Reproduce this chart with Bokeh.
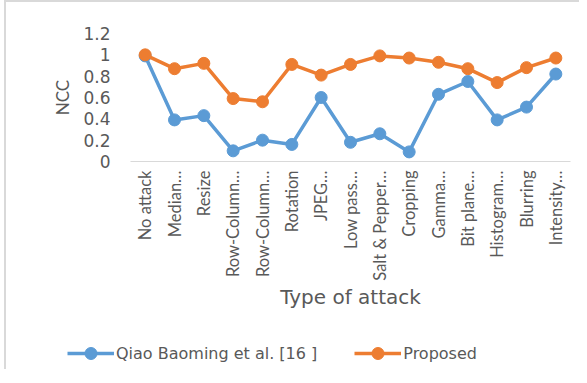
import math
from bokeh.plotting import figure
from bokeh.models import FixedTicker, Legend, LegendItem, ColumnDataSource
from bokeh.embed import file_html
from bokeh.resources import INLINE

categories = ["No attack", "Median…", "Resize", "Row-Column…", "Row-Column…",
              "Rotation", "JPEG…", "Low pass…", "Salt & Pepper…", "Cropping",
              "Gamma…", "Bit plane…", "Histogram…", "Blurring", "Intensity…"]
qiao = [0.99, 0.39, 0.43, 0.10, 0.20, 0.16, 0.60, 0.18, 0.26, 0.09, 0.63, 0.75, 0.39, 0.51, 0.82]
proposed = [1.00, 0.87, 0.92, 0.59, 0.56, 0.91, 0.81, 0.91, 0.99, 0.97, 0.93, 0.87, 0.74, 0.88, 0.97]
y_ticks = [0, 0.2, 0.4, 0.6, 0.8, 1, 1.2]
y_labels = ["0", "0.2", "0.4", "0.6", "0.8", "1", "1.2"]
series_names = ["Qiao Baoming et al. [16 ]", "Proposed"]

VFONT = "Lato"          # rotated texts
HFONT = "DejaVu Sans"   # horizontal texts (reference is stretched horizontally)
GRAY = "#595959"
BLUE = "#5B9BD5"
ORANGE = "#ED7D31"
BORDER = "2px solid #d9d9d9"
SHIFT = {"position": "relative", "left": "4px"}

xs = list(range(len(categories)))

p = figure(width=575, height=319, output_backend="svg", toolbar_location=None,
           x_range=(-0.5, len(categories) - 0.5), y_range=(0, 1.2),
           min_border_left=124, min_border_right=11, min_border_top=31,
           min_border_bottom=160)
p.styles = dict(SHIFT, **{"border-left": BORDER, "border-top": BORDER})
p.outline_line_color = None
p.xgrid.visible = False
p.ygrid.visible = False

src = ColumnDataSource(dict(x=xs, a=qiao, b=proposed))
p.line("x", "a", source=src, line_color=BLUE, line_width=3.5)
p.scatter("x", "a", source=src, size=12, fill_color=BLUE, line_color=BLUE)
p.line("x", "b", source=src, line_color=ORANGE, line_width=3.5)
p.scatter("x", "b", source=src, size=12, fill_color=ORANGE, line_color=ORANGE)

# y axis
ya = p.yaxis[0]
ya.ticker = FixedTicker(ticks=y_ticks)
ya.major_label_overrides = {t: s for t, s in zip(y_ticks, y_labels)}
ya.axis_line_color = None
ya.major_tick_line_color = None
ya.minor_tick_line_color = None
ya.major_label_standoff = 14
ya.major_label_text_font = HFONT
ya.major_label_text_font_size = "17px"
ya.major_label_text_color = GRAY
ya.axis_label = "NCC"
ya.axis_label_text_font = VFONT
ya.axis_label_text_font_size = "17px"
ya.axis_label_text_font_style = "normal"
ya.axis_label_text_color = GRAY
ya.axis_label_standoff = 7

# x axis
xa = p.xaxis[0]
xa.ticker = FixedTicker(ticks=xs)
xa.major_label_overrides = {i: c for i, c in zip(xs, categories)}
xa.major_label_orientation = math.pi / 2
xa.axis_line_color = "#d9d9d9"
xa.axis_line_width = 1
xa.major_tick_line_color = None
xa.minor_tick_line_color = None
xa.major_label_standoff = 3
xa.major_label_text_font = VFONT
xa.major_label_text_font_size = "16.5px"
xa.major_label_text_color = GRAY
xa.axis_label = "Type of attack"
xa.axis_label_text_font = HFONT
xa.axis_label_text_font_size = "20px"
xa.axis_label_text_font_style = "normal"
xa.axis_label_text_color = GRAY
xa.axis_label_standoff = 1

# legend strip below the chart
q = figure(width=575, height=50, output_backend="svg", toolbar_location=None,
           x_axis_location=None, y_axis_location=None,
           min_border_left=0, min_border_right=0, min_border_top=0,
           min_border_bottom=0)
q.styles = dict(SHIFT, **{"border-left": BORDER})
q.outline_line_color = None
q.xgrid.visible = False
q.ygrid.visible = False
blank = ColumnDataSource(dict(x=[float("nan")], y=[float("nan")]))
r1 = q.line("x", "y", source=blank, line_color=BLUE, line_width=3.5)
s1 = q.scatter("x", "y", source=blank, size=12, fill_color=BLUE, line_color=BLUE)
r2 = q.line("x", "y", source=blank, line_color=ORANGE, line_width=3.5)
s2 = q.scatter("x", "y", source=blank, size=12, fill_color=ORANGE, line_color=ORANGE)

legend = Legend(items=[LegendItem(label=series_names[0], renderers=[r1, s1]),
                       LegendItem(label=series_names[1], renderers=[r2, s2])],
                orientation="horizontal", location=(61, 1),
                glyph_width=47, glyph_height=30, label_text_font=HFONT,
                label_text_font_size="16px", label_text_color=GRAY,
                border_line_color=None, background_fill_alpha=0,
                padding=0, margin=0, spacing=37, label_standoff=2)
q.add_layout(legend, "center")

open("out.html", "w").write(file_html([p, q], INLINE))
